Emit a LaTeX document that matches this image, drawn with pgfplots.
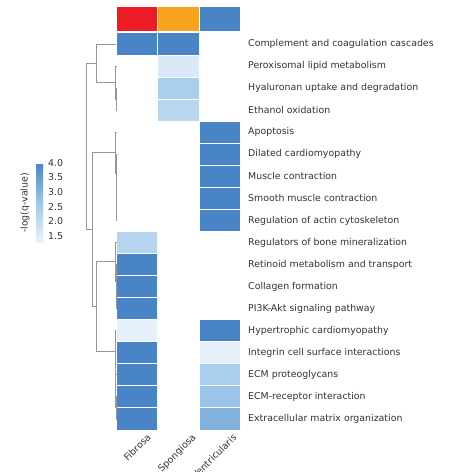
\documentclass[border=0pt]{standalone}
\usepackage{fontspec}
\setmainfont{DejaVu Sans}
\usepackage{pgfplots}
\usepackage{pgfplotstable}
\usepgfplotslibrary{patchplots}
\usetikzlibrary{calc}
\pgfplotsset{compat=1.18}
\definecolor{txt}{RGB}{51,51,51}
\definecolor{dend}{RGB}{150,150,150}
\definecolor{fib}{RGB}{237,28,36}
\definecolor{spo}{RGB}{249,164,28}
\definecolor{ven}{RGB}{72,132,198}
\newcommand{\lblfont}{\fontsize{9.4}{11}\selectfont}
\pgfplotsset{dendro/.style={draw=dend, line width=0.9pt, no markers, solid}}

% cells: rows counted from bottom (0 = Extracellular matrix organization)
\pgfplotstableread{
x y c
0 17 4.0
1 17 4.0
1 18 4.0
0 18 4.0
1 17 4.0
2 17 4.0
2 18 4.0
1 18 4.0
1 16 1.6
2 16 1.6
2 17 1.6
1 17 1.6
1 15 2.45
2 15 2.45
2 16 2.45
1 16 2.45
1 14 2.2
2 14 2.2
2 15 2.2
1 15 2.2
2 13 4.0
3 13 4.0
3 14 4.0
2 14 4.0
2 12 4.0
3 12 4.0
3 13 4.0
2 13 4.0
2 11 4.0
3 11 4.0
3 12 4.0
2 12 4.0
2 10 4.0
3 10 4.0
3 11 4.0
2 11 4.0
2 9 4.0
3 9 4.0
3 10 4.0
2 10 4.0
0 8 2.25
1 8 2.25
1 9 2.25
0 9 2.25
0 7 4.0
1 7 4.0
1 8 4.0
0 8 4.0
0 6 4.0
1 6 4.0
1 7 4.0
0 7 4.0
0 5 4.0
1 5 4.0
1 6 4.0
0 6 4.0
0 4 1.35
1 4 1.35
1 5 1.35
0 5 1.35
2 4 4.0
3 4 4.0
3 5 4.0
2 5 4.0
0 3 4.0
1 3 4.0
1 4 4.0
0 4 4.0
2 3 1.4
3 3 1.4
3 4 1.4
2 4 1.4
0 2 4.0
1 2 4.0
1 3 4.0
0 3 4.0
2 2 2.45
3 2 2.45
3 3 2.45
2 3 2.45
0 1 4.0
1 1 4.0
1 2 4.0
0 2 4.0
2 1 2.7
3 1 2.7
3 2 2.7
2 2 2.7
0 0 4.0
1 0 4.0
1 1 4.0
0 1 4.0
2 0 3.1
3 0 3.1
3 1 3.1
2 1 3.1
}\cells

\begin{document}
\begin{tikzpicture}
\path[use as bounding box] (0,0) rectangle (448pt,472pt);

% column colour bar
\begin{axis}[
  at={(116.5pt,440pt)}, anchor=south west,
  scale only axis, width=124.5pt, height=25pt,
  xmin=0, xmax=3, ymin=0, ymax=1,
  hide axis, clip=false]
\addplot[fill=fib, draw=white, line width=1pt] coordinates {(0,0) (1,0) (1,1) (0,1)} -- cycle;
\addplot[fill=spo, draw=white, line width=1pt] coordinates {(1,0) (2,0) (2,1) (1,1)} -- cycle;
\addplot[fill=ven, draw=white, line width=1pt] coordinates {(2,0) (3,0) (3,1) (2,1)} -- cycle;
\end{axis}

% heatmap + dendrogram
\begin{axis}[
  at={(116.5pt,42pt)}, anchor=south west,
  scale only axis, width=124.5pt, height=397pt,
  xmin=0, xmax=3, ymin=0, ymax=18,
  axis line style={draw=none}, major tick length=0pt,
  clip=false,
  ytick={0.5,1.5,...,17.5},
  yticklabels={Extracellular matrix organization, ECM-receptor interaction, ECM proteoglycans,
    Integrin cell surface interactions, Hypertrophic cardiomyopathy, PI3K-Akt signaling pathway,
    Collagen formation, Retinoid metabolism and transport, Regulators of bone mineralization,
    Regulation of actin cytoskeleton, Smooth muscle contraction, Muscle contraction,
    Dilated cardiomyopathy, Apoptosis, Ethanol oxidation, Hyaluronan uptake and degradation,
    Peroxisomal lipid metabolism, Complement and coagulation cascades},
  yticklabel pos=right,
  yticklabel style={anchor=west, inner sep=0pt, xshift=7pt, font=\lblfont, text=txt},
  xtick={0.65,1.735,2.72},
  xticklabels={Fibrosa,Spongiosa,Ventricularis},
  xticklabel style={rotate=45, anchor=north east, inner sep=0pt, yshift=-4pt, font=\lblfont, text=txt},
  colormap={qv}{rgb255=(236,244,252) rgb255=(160,200,235) rgb255=(72,132,198)},
  point meta min=1.25, point meta max=4.0,
  colorbar,
  colorbar style={
    at={($(parent axis.south west)+(-89pt,187pt)$)}, anchor=south west,
    scale only axis, width=7pt, height=80pt,
    axis line style={draw=none}, major tick length=0pt,
    ytick={1.5,2.0,2.5,3.0,3.5,4.0},
    yticklabel style={font=\lblfont, text=txt, inner sep=0pt, xshift=5pt,
      /pgf/number format/.cd, fixed, fixed zerofill, precision=1, assume math mode=true},
    ylabel={-log(q-value)},
    ylabel style={at={(axis description cs:-1.57,0.5)}, anchor=center, font=\lblfont, text=txt},
  },
]
\addplot[patch, patch type=rectangle, shader=faceted, faceted color=white, line width=1pt,
  point meta=explicit] table[x=x, y=y, meta=c] {\cells};

% dendrogram (row linkage)
\addplot[dendro] coordinates {(-0.482,16.625) (-0.718,16.625) (-0.718,9.078) (-0.573,9.078)};
\addplot[dendro] coordinates {(0,17.5) (-0.482,17.5) (-0.482,15.75) (-0.02,15.75)};
\addplot[dendro] coordinates {(0,16.5) (-0.02,16.5) (-0.02,15.0) (-0.01,15.0)};
\addplot[dendro] coordinates {(0,15.5) (-0.01,15.5) (-0.01,14.5) (0,14.5)};
\addplot[dendro] coordinates {(-0.015,12.5625) (-0.573,12.5625) (-0.573,5.594) (-0.477,5.594)};
\addplot[dendro] coordinates {(0,13.5) (-0.015,13.5) (-0.015,11.625) (-0.012,11.625)};
\addplot[dendro] coordinates {(0,12.5) (-0.012,12.5) (-0.012,10.75) (-0.009,10.75)};
\addplot[dendro] coordinates {(0,11.5) (-0.009,11.5) (-0.009,10.0) (-0.006,10.0)};
\addplot[dendro] coordinates {(0,10.5) (-0.006,10.5) (-0.006,9.5) (0,9.5)};
\addplot[dendro] coordinates {(-0.015,7.625) (-0.477,7.625) (-0.477,3.5625) (-0.036,3.5625)};
\addplot[dendro] coordinates {(0,8.5) (-0.015,8.5) (-0.015,6.75) (-0.01,6.75)};
\addplot[dendro] coordinates {(0,7.5) (-0.01,7.5) (-0.01,6.0) (-0.005,6.0)};
\addplot[dendro] coordinates {(0,6.5) (-0.005,6.5) (-0.005,5.5) (0,5.5)};
\addplot[dendro] coordinates {(0,4.5) (-0.036,4.5) (-0.036,2.625) (-0.03,2.625)};
\addplot[dendro] coordinates {(0,3.5) (-0.03,3.5) (-0.03,1.75) (-0.02,1.75)};
\addplot[dendro] coordinates {(0,2.5) (-0.02,2.5) (-0.02,1.0) (-0.01,1.0)};
\addplot[dendro] coordinates {(0,1.5) (-0.01,1.5) (-0.01,0.5) (0,0.5)};
\end{axis}
\end{tikzpicture}
\end{document}
